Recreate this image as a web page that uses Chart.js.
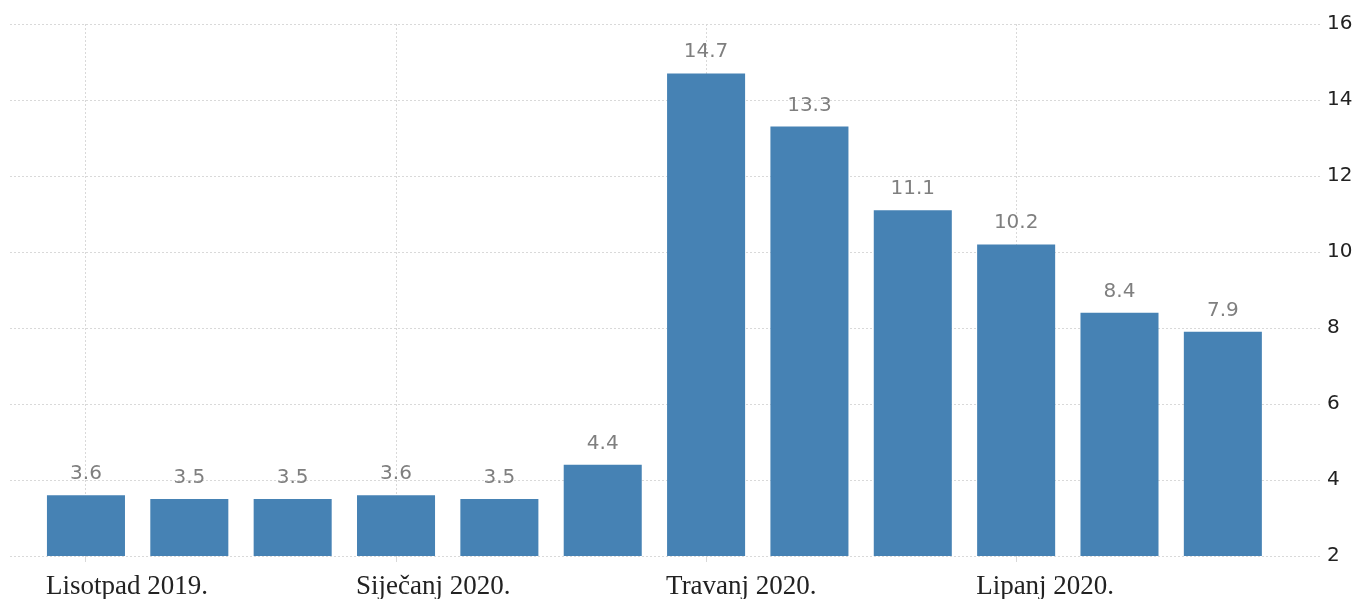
<!DOCTYPE html>
<html>
<head>
<meta charset="utf-8">
<script src="https://cdn.jsdelivr.net/npm/chart.js@4/dist/chart.umd.min.js"></script>
<style>
  body { margin: 0; background: #fff; }
</style>
</head>
<body>
<canvas id="chart" width="1356" height="601"></canvas>
<script>
const values = [3.6, 3.5, 3.5, 3.6, 3.5, 4.4, 14.7, 13.3, 11.1, 10.2, 8.4, 7.9]
const tickIndex = [0, 3, 6, 9]
const tickLabels = ['Lisotpad 2019.', 'Siječanj 2020.', 'Travanj 2020.', 'Lipanj 2020.']
const yTicks = [2, 4, 6, 8, 10, 12, 14, 16]

const gridColor = '#d9d9d9'

// draws the value above each bar
const valueLabels = {
  id: 'valueLabels',
  afterDatasetsDraw (chart) {
    const ctx = chart.ctx
    const meta = chart.getDatasetMeta(0)
    ctx.save()
    ctx.font = '20px "DejaVu Sans"'
    ctx.fillStyle = '#7f7f7f'
    ctx.textAlign = 'center'
    ctx.textBaseline = 'alphabetic'
    meta.data.forEach((bar, i) => {
      ctx.fillText(values[i].toFixed(1), bar.x, bar.y - 16)
    })
    ctx.restore()
  }
}

new Chart(document.getElementById('chart'), {
  type: 'bar',
  data: {
    datasets: [{
      data: values.map((v, i) => ({ x: i, y: v })),
      backgroundColor: '#4682b4',
      borderWidth: 0,
      barPercentage: 0.755,
      categoryPercentage: 1
    }]
  },
  options: {
    responsive: false,
    animation: false,
    layout: { padding: { left: 10, top: 24, right: 4, bottom: 2 } },
    plugins: { legend: { display: false }, tooltip: { enabled: false } },
    scales: {
      x: {
        type: 'linear',
        offset: false,
        min: -0.735,
        max: 11.94,
        afterBuildTicks: (scale) => { scale.ticks = tickIndex.map(v => ({ value: v })) },
        afterFit: (scale) => { scale.height = 43 },
        border: { display: false, dash: [2, 2] },
        grid: { offset: false, color: gridColor, tickLength: 6, tickColor: gridColor },
        ticks: {
          autoSkip: false,
          maxRotation: 0,
          align: 'start',
          labelOffset: -40,
          padding: 11,
          color: '#222',
          font: { family: '"Liberation Serif"', size: 27, lineHeight: 1 },
          callback: (v) => tickLabels[tickIndex.indexOf(v)]
        }
      },
      y: {
        position: 'right',
        min: 2,
        max: 16,
        afterBuildTicks: (scale) => { scale.ticks = yTicks.map(v => ({ value: v })) },
        afterFit: (scale) => { scale.width = 32 },
        border: { display: false, dash: [2, 2] },
        grid: { color: gridColor, drawTicks: false },
        ticks: {
          padding: 7,
          color: '#222',
          font: { family: '"DejaVu Sans"', size: 20 }
        }
      }
    }
  },
  plugins: [valueLabels]
})
</script>
</body>
</html>
